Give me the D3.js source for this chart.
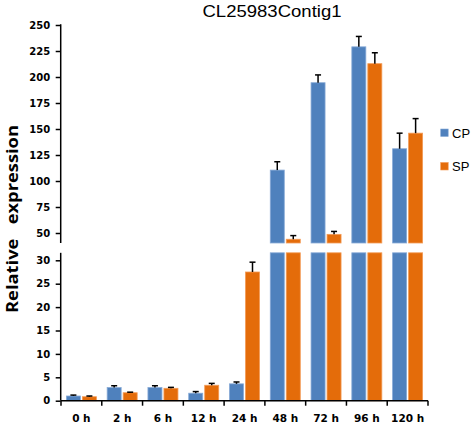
<!DOCTYPE html>
<html>
<head>
<meta charset="utf-8">
<script src="https://cdn.jsdelivr.net/npm/d3@7"></script>
<style>
  html, body { margin: 0; padding: 0; background: #fff; }
  svg { display: block; }
</style>
</head>
<body>
<svg id="chart" width="472" height="424"></svg>
<script>
const categories = ["0 h", "2 h", "6 h", "12 h", "24 h", "48 h", "72 h", "96 h", "120 h"];
const seriesNames = ["CP", "SP"];
const cpValues = [1.0, 2.8, 2.8, 1.6, 3.6, 110.5, 194.5, 229, 131];
const cpErrors = [0.2, 0.4, 0.4, 0.35, 0.4, 8, 7.5, 10, 15];
const spValues = [0.85, 1.7, 2.65, 3.3, 27.5, 44, 48.7, 212.8, 146];
const spErrors = [0.15, 0.12, 0.2, 0.4, 2.1, 3.5, 2.8, 10.5, 14];
const upperTicks = [50, 75, 100, 125, 150, 175, 200, 225, 250];
const lowerTicks = [0, 5, 10, 15, 20, 25, 30];
const colors = { CP: "#4f81bd", SP: "#e46c0a" };
const edges = { CP: "#86a9d6", SP: "#f39a55" };

const svg = d3.select("#chart");
const axisX = 60.7;
const upperBreak = 40.4;   // lowest value shown on the upper panel
const lowerBreak = 31.6;   // highest value shown on the lower panel

const yUpper = d3.scaleLinear().domain([50, 250]).range([233, 25]);
const yLower = d3.scaleLinear().domain([0, 30]).range([400.7, 260.3]);
const x0 = d3.scaleBand().domain(categories).range([61, 428]).padding(0);
const x1 = d3.scaleBand().domain(seriesNames).range([-15, 15]).paddingInner(0.125);

const data = categories.map((c, i) => ({
  cat: c,
  vals: [
    { s: "CP", v: cpValues[i], e: cpErrors[i] },
    { s: "SP", v: spValues[i], e: spErrors[i] }
  ]
}));

// Bars
const g = svg.append("g");
data.forEach(d => {
  const cx = x0(d.cat) + x0.bandwidth() / 2;
  d.vals.forEach(b => {
    const bx = cx + x1(b.s);
    const bw = x1.bandwidth();
    const lowTop = Math.min(b.v, lowerBreak);
    g.append("rect")
      .attr("x", bx).attr("width", bw)
      .attr("y", yLower(lowTop))
      .attr("height", yLower(0) - yLower(lowTop))
      .attr("fill", colors[b.s]).attr("stroke", edges[b.s]).attr("stroke-width", 0.8);
    if (b.v > upperBreak) {
      g.append("rect")
        .attr("x", bx).attr("width", bw)
        .attr("y", yUpper(b.v))
        .attr("height", yUpper(upperBreak) - yUpper(b.v))
        .attr("fill", colors[b.s]).attr("stroke", edges[b.s]).attr("stroke-width", 0.8);
    }
    // error bar
    const scale = b.v > upperBreak ? yUpper : yLower;
    const ex = bx + bw / 2;
    const yTop = scale(b.v + b.e), yBase = scale(b.v);
    g.append("line").attr("x1", ex).attr("x2", ex).attr("y1", yBase).attr("y2", yTop)
      .attr("stroke", "#000").attr("stroke-width", 1.5);
    g.append("line").attr("x1", ex - 3).attr("x2", ex + 3).attr("y1", yTop).attr("y2", yTop)
      .attr("stroke", "#000").attr("stroke-width", 1.5);
  });
});

// Y axes
function styleAxis(sel) {
  sel.selectAll(".domain").remove();
  sel.selectAll(".tick line").attr("stroke", "#000").attr("stroke-width", 1.5);
  sel.selectAll(".tick text")
    .attr("fill", "#000")
    .style("font-family", "'DejaVu Sans', sans-serif")
    .style("font-weight", "bold")
    .style("font-size", "10px");
}
const ua = svg.append("g").attr("transform", `translate(${axisX},0)`)
  .call(d3.axisLeft(yUpper).tickValues(upperTicks).tickSize(5).tickPadding(5.5).tickSizeOuter(0))
  .call(styleAxis);
ua.append("line").attr("x1", 0).attr("x2", 0).attr("y1", yUpper(250) - 0.75).attr("y2", yUpper(upperBreak))
  .attr("stroke", "#000").attr("stroke-width", 1.5);

const la = svg.append("g").attr("transform", `translate(${axisX},0)`)
  .call(d3.axisLeft(yLower).tickValues(lowerTicks).tickSize(5).tickPadding(5.5).tickSizeOuter(0))
  .call(styleAxis);
la.append("line").attr("x1", 0).attr("x2", 0).attr("y1", yLower(lowerBreak)).attr("y2", yLower(0))
  .attr("stroke", "#000").attr("stroke-width", 1.5);

// X axis
const xa = svg.append("g").attr("transform", `translate(0,${yLower(0)})`);
xa.append("line").attr("x1", 61).attr("x2", 428).attr("y1", 0).attr("y2", 0)
  .attr("stroke", "#000").attr("stroke-width", 1.5);
const boundaries = categories.map(c => x0(c)).concat([x0.range()[1]]);
xa.selectAll("line.tk").data(boundaries).enter().append("line").attr("class", "tk")
  .attr("x1", d => d).attr("x2", d => d).attr("y1", 0).attr("y2", 5)
  .attr("stroke", "#000").attr("stroke-width", 1.5);
xa.selectAll("text").data(categories).enter().append("text")
  .attr("x", d => x0(d) + x0.bandwidth() / 2)
  .attr("y", 21.3)
  .attr("text-anchor", "middle")
  .style("font-family", "'DejaVu Sans', sans-serif")
  .style("font-weight", "bold")
  .style("font-size", "10.5px")
  .text(d => d);

// Title
svg.append("text")
  .attr("x", 272).attr("y", 16.5)
  .attr("text-anchor", "middle")
  .attr("textLength", 139).attr("lengthAdjust", "spacingAndGlyphs")
  .style("font-family", "'Liberation Sans', Arial, sans-serif")
  .style("font-size", "16px")
  .text("CL25983Contig1");

// Y label
svg.append("text")
  .attr("transform", "translate(18,219) rotate(-90)")
  .attr("text-anchor", "middle")
  .attr("textLength", 188).attr("lengthAdjust", "spacingAndGlyphs")
  .style("font-family", "'Open Sans', sans-serif")
  .style("font-weight", "bold")
  .style("font-size", "16.5px")
  .style("white-space", "pre")
  .text("Relative   expression");

// Legend
const leg = svg.append("g");
seriesNames.forEach((s, i) => {
  const yy = 129 + i * 33.5;
  leg.append("rect").attr("x", 440.7).attr("y", yy).attr("width", 7.5).attr("height", 7.5)
    .attr("fill", colors[s]).attr("stroke", edges[s]).attr("stroke-width", 0.6);
  leg.append("text").attr("x", 452).attr("y", yy + 8.5)
    .style("font-family", "'Liberation Sans', Arial, sans-serif")
    .style("font-size", "13px")
    .text(s);
});
</script>
</body>
</html>
